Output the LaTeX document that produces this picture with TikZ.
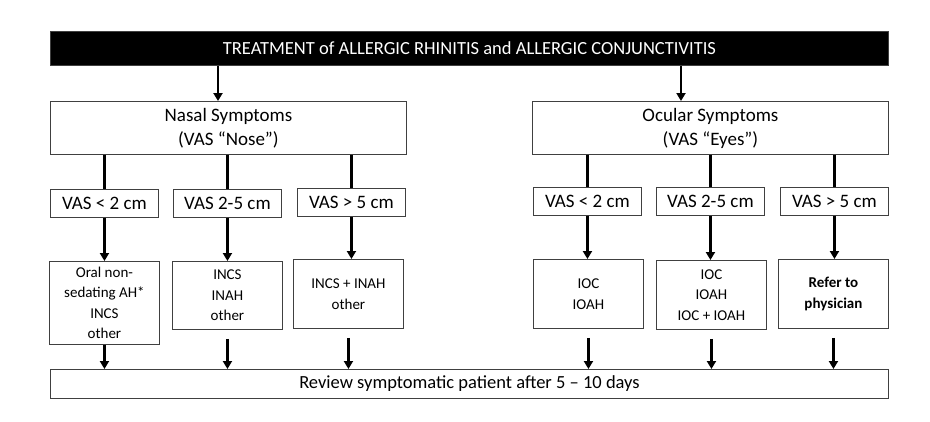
\documentclass[tikz,border=0pt]{standalone}
\usepackage{fontspec}
\setmainfont{Carlito}
\usetikzlibrary{arrows.meta}
\begin{document}
\begin{tikzpicture}[x=1pt,y=-1pt,
 box/.style={draw=black!75,line width=0.9pt,align=center,inner sep=0pt,anchor=north west},
 arr/.style={line width=2.6pt,-{Triangle[width=9pt,length=8pt]}},
 ln/.style={line width=2.6pt}]
\useasboundingbox (0,0) rectangle (930,421);
\node[box,fill=black,text=white,minimum width=838pt,minimum height=34pt,font=\fontsize{18.5}{20}\selectfont] (top) at (50,31) {TREATMENT of ALLERGIC RHINITIS and ALLERGIC CONJUNCTIVITIS};
\tikzset{big/.style={box,minimum width=356pt,minimum height=53pt,font=\fontsize{19}{24}\selectfont},
 vas/.style={box,minimum width=108pt,minimum height=28pt,font=\fontsize{19}{20}\selectfont},
 res/.style={box,minimum width=110pt,font=\fontsize{15}{20.5}\selectfont}}
\node[big] (nas) at (50,101) {Nasal Symptoms\\(VAS “Nose”)};
\node[big] (ocu) at (532,101) {Ocular Symptoms\\(VAS “Eyes”)};
\node[vas] (v1) at (50,189) {VAS < 2 cm};
\node[vas] (v2) at (173,189) {VAS 2-5 cm};
\node[vas] (v3) at (297,188) {VAS > 5 cm};
\node[vas] (v4) at (533,187) {VAS < 2 cm};
\node[vas] (v5) at (656,187) {VAS 2-5 cm};
\node[vas] (v6) at (780,187) {VAS > 5 cm};
\node[res,minimum height=83pt] (r1) at (49,261) {Oral non-\\sedating AH*\\INCS\\other};
\node[res,minimum height=68pt] (r2) at (172,261) {INCS\\INAH\\other};
\node[res,minimum height=69pt] (r3) at (293,259) {INCS + INAH\\other};
\node[res,minimum height=69pt] (r4) at (533,259) {IOC\\IOAH};
\node[res,minimum height=69pt] (r5) at (656,260) {IOC\\IOAH\\IOC + IOAH};
\node[res,minimum height=69pt,font=\fontsize{15}{20.5}\selectfont\bfseries] (r6) at (778,259) {Refer to\\physician};
\node[box,minimum width=838pt,minimum height=29pt,font=\fontsize{18.5}{20}\selectfont] (bot) at (50,369) {Review symptomatic patient after 5 – 10 days};
\draw[arr] (top.south -| 218,0) -- (nas.north -| 218,0);
\draw[arr] (top.south -| 681,0) -- (ocu.north -| 681,0);
\foreach \a/\b in {nas/v1,nas/v2,nas/v3,ocu/v4,ocu/v5,ocu/v6}{\draw[ln] (\a.south -| \b.north) -- (\b.north);}
\foreach \a/\b in {v1/r1,v2/r2,v3/r3,v4/r4,v5/r5,v6/r6}{\draw[arr] (\a.south) -- (\b.north -| \a.south);}
\draw[arr] (r1.south) -- (bot.north -| r1.south);
\foreach \r in {r2,r3,r4,r5,r6}{\draw[arr] ([yshift=-9pt]\r.south) -- (bot.north -| \r.south);}
\end{tikzpicture}
\end{document}
